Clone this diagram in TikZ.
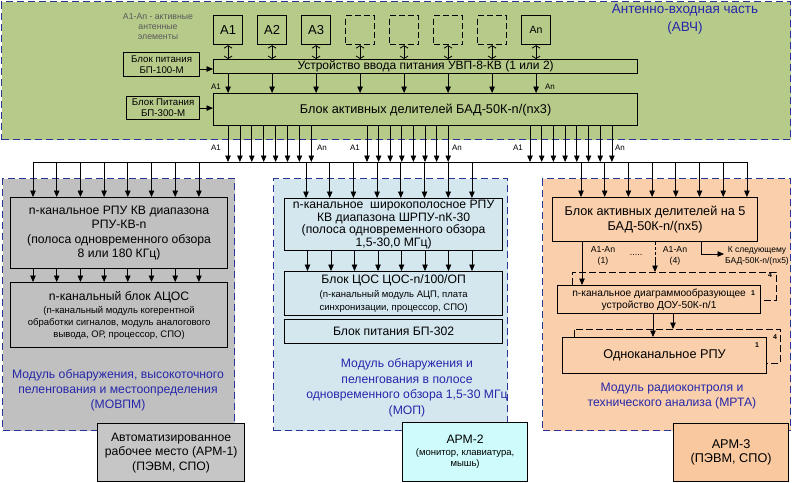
\documentclass[tikz,border=0pt]{standalone}
\usepackage{fontspec}
\setmainfont{Liberation Sans}
\usetikzlibrary{arrows.meta,calc}
\definecolor{grn}{RGB}{182,202,138}
\definecolor{gry}{RGB}{192,192,192}
\definecolor{lblue}{RGB}{212,231,239}
\definecolor{peach}{RGB}{249,207,172}
\definecolor{peachd}{RGB}{249,200,158}
\definecolor{cyanl}{RGB}{206,252,252}
\definecolor{dblue}{RGB}{40,52,150}
\definecolor{tblue}{RGB}{38,38,170}
\begin{document}
\begin{tikzpicture}[x=1pt,y=-1pt,
  region/.style={draw=dblue,dashed,dash pattern=on 7pt off 4pt,line width=1.4pt,anchor=north west,inner sep=0pt},
  bx/.style={draw,line width=1.2pt,anchor=north west,inner sep=0pt,align=center},
  ant/.style={bx,minimum width=29pt,minimum height=29pt,fill=grn,font=\fontsize{13}{15}\selectfont},
  dant/.style={ant,dashed,dash pattern=on 6pt off 3pt},
  arr/.style={line width=0.8pt,-{Triangle[length=6.5pt,width=5.5pt]}},
  darr/.style={line width=0.8pt,{Straight Barb[length=2.5pt,width=8pt]}-{Straight Barb[length=2.5pt,width=8pt]}},
  lbl/.style={font=\fontsize{8}{9}\selectfont,inner sep=0pt},
  mlbl/.style={text=tblue,align=center,font=\fontsize{12.2}{15}\selectfont,inner sep=0pt},
  bk/.style={line width=1pt,dashed,dash pattern=on 7pt off 3pt},
  sup/.style={font=\bfseries\fontsize{7}{8}\selectfont,inner sep=0pt}
]
\useasboundingbox (0,0) rectangle (800,482);
\fill[white] (0,0) rectangle (800,482);

% ---------- antenna-input part
\node[region,fill=grn,minimum width=789pt,minimum height=138pt] (avch) at (1,1) {};
\node[mlbl,font=\fontsize{13.5}{18}\selectfont] (avchlbl) at (685,19) {Антенно-входная часть\\(АВЧ)};
\node[align=center,inner sep=0pt,text=black!65,font=\fontsize{8.7}{10}\selectfont] (leg) at (158,27) {A1-An - активные\\антенные\\элементы};

\node[ant] (a0) at (213,15) {A1};
\node[ant] (a1) at (257,15) {A2};
\node[ant] (a2) at (301,15) {A3};
\node[dant] (a3) at (345,15) {};
\node[dant] (a4) at (389,15) {};
\node[dant] (a5) at (433,15) {};
\node[dant] (a6) at (477,15) {};
\node[ant,font=\fontsize{10.5}{12}\selectfont] (a7) at (521,15) {An};

\node[bx,fill=grn,minimum width=424pt,minimum height=14pt,font=\fontsize{12}{13}\selectfont] (uvp) at (213,59) {Устройство ввода питания УВП-8-КВ (1 или 2)};
\node[bx,fill=grn,minimum width=424pt,minimum height=32pt,font=\fontsize{12.7}{14}\selectfont] (bad) at (213,93) {Блок активных делителей БАД-50К-n/(nx3)};
\node[bx,fill=grn,minimum width=76pt,minimum height=24pt,font=\fontsize{9.7}{11}\selectfont] (bp100) at (123,52) {Блок питания\\БП-100-М};
\node[bx,fill=grn,minimum width=73pt,minimum height=23pt,font=\fontsize{9.7}{11}\selectfont] (bp300) at (126,96) {Блок Питания\\БП-300-М};

\foreach \i in {0,...,7} {
  \draw[darr] (a\i.south) -- (a\i.south |- uvp.north);
  \draw[arr] (a\i.south |- uvp.south) -- (a\i.south |- bad.north);
}
\draw[arr] (bp100.east |- 0,69) -- (uvp.west |- 0,69);
\draw[arr] (bp300.east) -- (bp300.east -| bad.west);
\node[lbl] (la1) at (216,87) {A1};
\node[lbl] (lan) at (550,87) {An};

% ---------- bus
\coordinate (busL) at (33,162);
\coordinate (busR) at (748,162);
\draw[line width=1pt] (busL) -- (busR);
\foreach \b/\s in {228/11.9,367/11.6,530/11.7} {
  \foreach \k in {0,...,7} {
    \draw[arr] ({\b+\k*\s},0 |- bad.south) -- ({\b+\k*\s},0 |- busL);
  }
}
\node[lbl] (g1a) at (216,148) {A1};
\node[lbl] (g1n) at (322,148) {An};
\node[lbl] (g2a) at (355,148) {A1};
\node[lbl] (g2n) at (457,148) {An};
\node[lbl] (g3a) at (518,148) {A1};
\node[lbl] (g3n) at (620,148) {An};

% ---------- MOVPM
\node[region,fill=gry,minimum width=232pt,minimum height=252pt] (movpm) at (2,178) {};
\node[bx,fill=gry,minimum width=217pt,minimum height=71pt,font=\fontsize{12.2}{14.5}\selectfont] (rpu) at (10,197) {n-канальное РПУ КВ диапазона\\РПУ-КВ-n\\(полоса одновременного обзора\\8 или 180 КГц)};
\node[bx,fill=gry,minimum width=217pt,minimum height=65pt,font=\fontsize{9.5}{12}\selectfont] (acos) at (10,282) {{\fontsize{12.2}{14}\selectfont n-канальный блок АЦОС}\\[1pt](n-канальный модуль когерентной\\обработки сигналов, модуль аналогового\\вывода, ОР, процессор, СПО)};
\foreach \k in {0,...,7} {
  \draw[arr] ({33+\k*23.7},0 |- busL) -- ({33+\k*23.7},0 |- rpu.north);
  \draw[arr] ({33+\k*23.7},0 |- rpu.south) -- ({33+\k*23.7},0 |- acos.north);
}
\node[mlbl] (movpmlbl) at (118,390) {Модуль обнаружения, высокоточного\\пеленгования и местоопределения\\(МОВПМ)};
\node[bx,fill=gry!90!white,minimum width=147pt,minimum height=58pt,font=\fontsize{12.2}{14.5}\selectfont] (arm1) at (97,423) {Автоматизированное\\рабочее место (АРМ-1)\\(ПЭВМ, СПО)};

% ---------- MOP
\node[region,fill=lblue,minimum width=234pt,minimum height=252pt] (mop) at (273,178) {};
\node[bx,fill=lblue,minimum width=218pt,minimum height=52pt,font=\fontsize{12.2}{12.7}\selectfont] (shrpu) at (284,198) {n-канальное\ \ широкополосное РПУ\\КВ диапазона ШРПУ-nК-30\\(полоса одновременного обзора\\1,5-30,0 МГц)};
\node[bx,fill=lblue,minimum width=218pt,minimum height=44pt,font=\fontsize{9.5}{13.5}\selectfont] (cos) at (284,271) {{\fontsize{12.2}{14}\selectfont Блок ЦОС ЦОС-n/100/ОП}\\(n-канальный модуль АЦП, плата\\синхронизации, процессор, СПО)};
\node[bx,fill=lblue,minimum width=218pt,minimum height=24pt,font=\fontsize{12.2}{14}\selectfont] (bp302) at (284,319) {Блок питания БП-302};
\foreach \k in {0,...,7} {
  \draw[arr] ({306+\k*23.7},0 |- busL) -- ({306+\k*23.7},0 |- shrpu.north);
  \draw[arr] ({307.5+\k*23.5},0 |- shrpu.south) -- ({307.5+\k*23.5},0 |- cos.north);
}
\node[mlbl,font=\fontsize{12.2}{15.5}\selectfont] (moplbl) at (407,388) {Модуль обнаружения и\\пеленгования в полосе\\одновременного обзора 1,5-30 МГц\\(МОП)};
\node[bx,fill=cyanl,minimum width=125pt,minimum height=59pt,font=\fontsize{9.5}{11}\selectfont] (arm2) at (402,422) {{\fontsize{12.2}{14}\selectfont АРМ-2}\\[1pt](монитор, клавиатура,\\мышь)};

% ---------- MRTA
\node[region,fill=peach,minimum width=248pt,minimum height=252pt] (mrta) at (542,178) {};
\node[bx,fill=peach,minimum width=205pt,minimum height=44pt,font=\fontsize{12.7}{14.5}\selectfont] (bad5) at (552,197) {Блок активных делителей на 5\\БАД-50К-n/(nx5)};
\foreach \k in {0,...,7} {
  \draw[arr] ({581+\k*23.7},0 |- busL) -- ({581+\k*23.7},0 |- bad5.north);
}
% stacked copies behind DOU
\coordinate (k1a) at (572,272);
\coordinate (k1b) at (776,272);
\coordinate (k1c) at (776,300);
\draw[bk] (k1a |- 0,285) -- (k1a) -- (k1b) -- (k1c) -- (760,300);
\node[bx,fill=peach,minimum width=203pt,minimum height=28pt,font=\fontsize{10.2}{12.5}\selectfont] (dou) at (557,285) {n-канальное диаграммообразующее\\устройство ДОУ-50К-n/1};
\node[sup] (s4a) at (770,275) {4};
\node[sup] (s1a) at (753,293) {1};

\coordinate (k2a) at (574,329);
\coordinate (k2b) at (780,329);
\coordinate (k2c) at (780,363);
\draw[bk] (k2a |- 0,337) -- (k2a) -- (k2b) -- (k2c) -- (766,363);
\node[bx,fill=peach,minimum width=204pt,minimum height=36pt,font=\fontsize{12.7}{14}\selectfont] (rpu1) at (562,337) {Одноканальное РПУ};
\node[sup] (s4b) at (775,337) {4};
\node[sup] (s1b) at (757,345) {1};

\draw[arr] (582,0 |- bad5.south) -- (582,0 |- dou.north);
\coordinate (d4) at (655,258);
\draw[line width=0.8pt,dashed,dash pattern=on 3pt off 2pt] (655,0 |- bad5.south) -- (d4);
\draw[arr] (d4) -- (655,0 |- k1a);
\coordinate (nx) at (724,254);
\draw[arr] (701,0 |- bad5.south) -- (701,0 |- nx) -- (nx);
\node[lbl,align=center,font=\fontsize{8.7}{10.5}\selectfont] (l1) at (603,256) {A1-An\\(1)};
\node[lbl,align=center,font=\fontsize{8.7}{10.5}\selectfont] (l4) at (675,256) {A1-An\\(4)};
\node[lbl,font=\fontsize{9}{10}\selectfont] (dots) at (636,255) {.....};
\node[lbl,align=center,font=\fontsize{8.5}{10.5}\selectfont] (lnext) at (757,256) {К следующему\\БАД-50К-n/(nx5)};

\draw[arr] (653,0 |- dou.south) -- (653,0 |- rpu1.north);
\draw[arr] (673,0 |- dou.south) -- (673,0 |- k2a);

\node[mlbl,font=\fontsize{12.2}{14.5}\selectfont] (mrtalbl) at (672,396) {Модуль радиоконтроля и\\технического анализа (МРТА)};
\node[bx,fill=peachd,minimum width=115pt,minimum height=58pt,font=\fontsize{12.7}{14.5}\selectfont] (arm3) at (673,423) {АРМ-3\\(ПЭВМ, СПО)};
\end{tikzpicture}
\end{document}
